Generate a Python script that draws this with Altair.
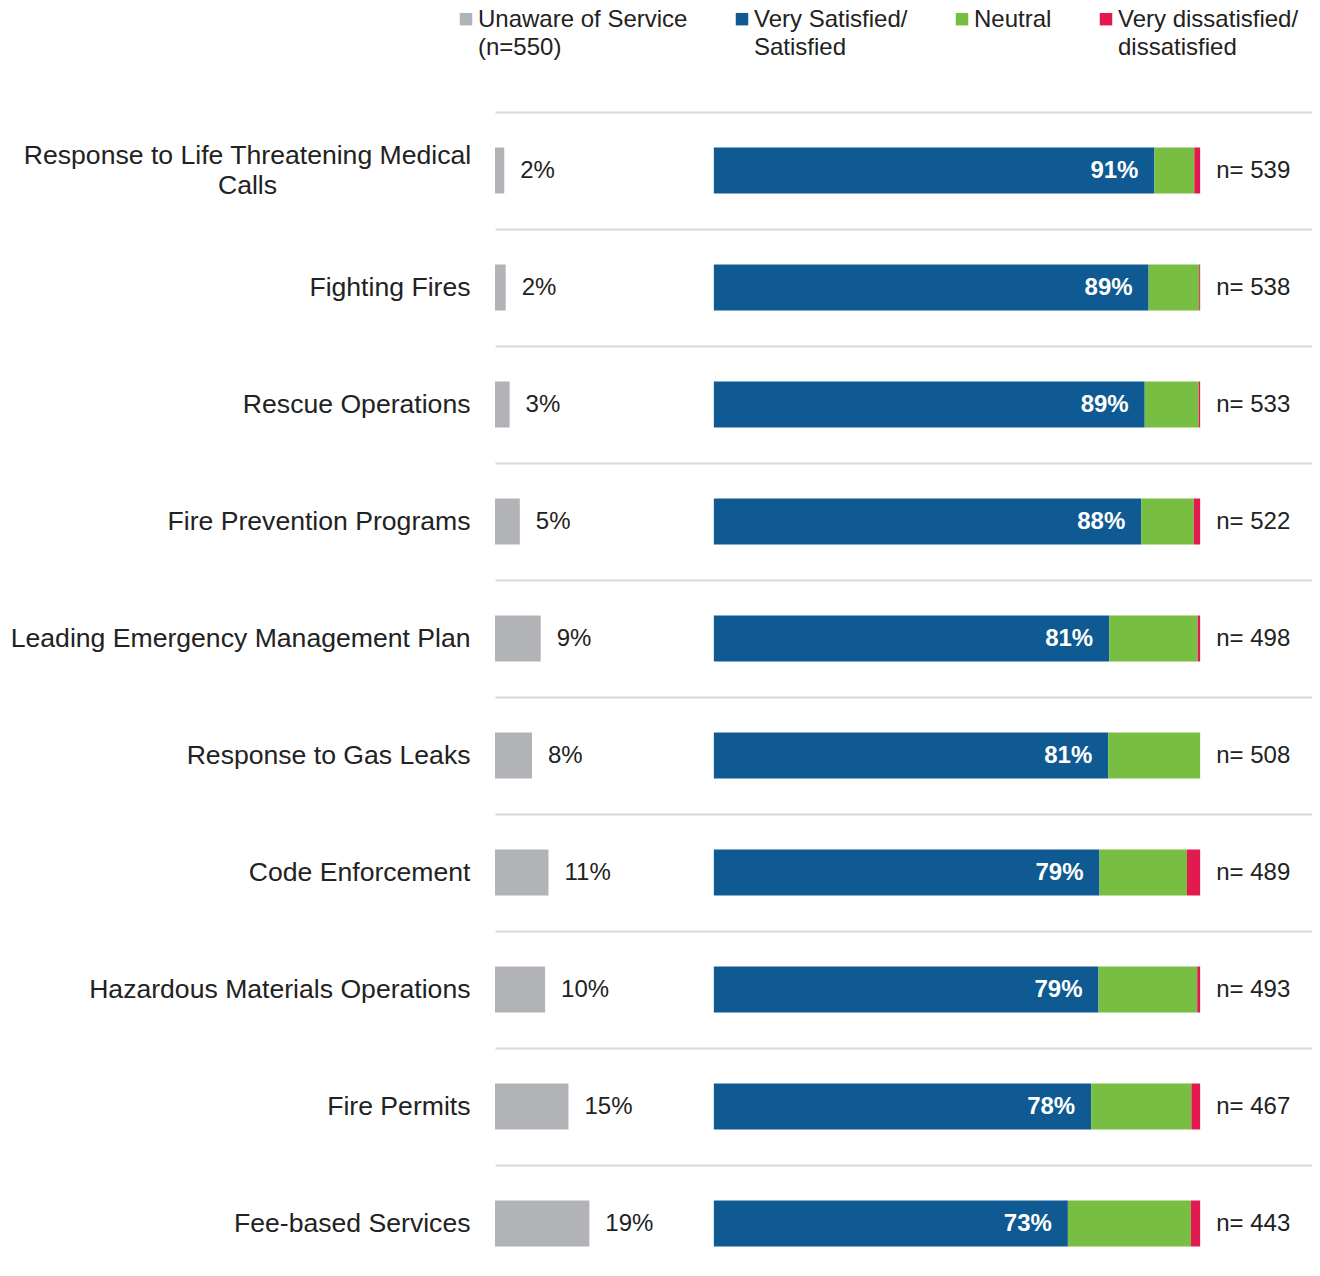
import json
import altair as alt
import pandas as pd

# ---------------- data ----------------
services = [
    "Response to Life Threatening Medical Calls",
    "Fighting Fires",
    "Rescue Operations",
    "Fire Prevention Programs",
    "Leading Emergency Management Plan",
    "Response to Gas Leaks",
    "Code Enforcement",
    "Hazardous Materials Operations",
    "Fire Permits",
    "Fee-based Services",
]
unaware = [1.9, 2.2, 3.0, 5.1, 9.4, 7.6, 11.0, 10.3, 15.1, 19.4]
satisfied = [90.6, 89.4, 88.6, 87.9, 81.3, 81.1, 79.3, 79.1, 77.6, 72.8]
neutral = [8.2, 10.4, 11.1, 10.8, 18.2, 18.9, 18.0, 20.3, 20.6, 25.3]
dissatisfied = [1.2, 0.2, 0.3, 1.3, 0.5, 0.0, 2.7, 0.6, 1.8, 1.9]
n_values = [539, 538, 533, 522, 498, 508, 489, 493, 467, 443]

series = [
    "Unaware of Service (n=550)",
    "Very Satisfied/Satisfied",
    "Neutral",
    "Very dissatisfied/dissatisfied",
]
series_lines = [
    ["Unaware of Service", "(n=550)"],
    ["Very Satisfied/", "Satisfied"],
    ["Neutral", ""],
    ["Very dissatisfied/", "dissatisfied"],
]
colors = ["#B1B3B6", "#0F5A92", "#78BE43", "#E31A4F"]
wrapped_labels = {
    "Response to Life Threatening Medical Calls": ["Response to Life Threatening Medical", "Calls"],
}

RATING_OFFSET = 45   # gap (in % units) before the rating bars start
X_MAX = 168
TEXT = "#222222"
FONT = "Liberation Sans"

rows = []
for i, s in enumerate(services):
    for j, vals in enumerate([unaware, satisfied, neutral, dissatisfied]):
        rows.append({
            "service": s,
            "series": series[j],
            "order": j,
            "panel": "unaware" if j == 0 else "rating",
            "value": vals[i],
            "n": n_values[i],
        })
df = pd.DataFrame(rows)

# ---------------- expressions ----------------
first = list(wrapped_labels.keys())[0]
test_first = f"datum.value == {json.dumps(first)}"
axis_label_expr = "".join(
    f"datum.value == {json.dumps(k)} ? {json.dumps(v)} : " for k, v in wrapped_labels.items()
) + "datum.label"
legend_label_expr = "".join(
    f"datum.label == {json.dumps(s)} ? {json.dumps(l)} : " for s, l in zip(series, series_lines)
) + "datum.label"

y_enc = alt.Y(
    "service:N",
    sort=services,
    scale=alt.Scale(range=[0, 1170], paddingInner=0, paddingOuter=0),
    axis=alt.Axis(
        title=None,
        domain=False,
        ticks=False,
        grid=True,
        tickBand="extent",
        gridColor="#D9D9D9",
        gridWidth=2,
        labelFontSize=26.6,
        labelFont=FONT,
        labelColor=TEXT,
        labelLineHeight=30,
        labelLimit=600,
        labelExpr=axis_label_expr,
        labelAlign={"condition": {"test": test_first, "value": "center"}, "value": "right"},
        labelPadding={"condition": {"test": test_first, "value": 248}, "value": 25},
        labelOffset={"condition": {"test": test_first, "value": -15}, "value": 0},
    ),
)

x_scale = alt.Scale(domain=[0, X_MAX], nice=False, zero=False)

base = alt.Chart(df).transform_stack(
    stack="value",
    groupby=["service", "panel"],
    sort=[alt.SortField("order")],
    as_=["s0", "s1"],
).transform_calculate(
    x0=f"datum.s0 + (datum.panel == 'rating' ? {RATING_OFFSET} : 0)",
    x1=f"datum.s1 + (datum.panel == 'rating' ? {RATING_OFFSET} : 0)",
    pct="format(datum.value, '.0f') + '%'",
    nlabel="'n= ' + datum.n",
)

square_path = "M-1,0.79H1V2.79H-1Z"

bars = base.mark_bar(size=46).encode(
    x=alt.X("x0:Q", scale=x_scale, axis=None),
    x2="x1:Q",
    y=y_enc,
    color=alt.Color(
        "series:N",
        scale=alt.Scale(domain=series, range=colors),
        legend=alt.Legend(
            title=None,
            orient="none",
            legendX=-42,
            legendY=-116,
            direction="horizontal",
            labelExpr=legend_label_expr,
            labelBaseline="top",
            labelFontSize=24,
            labelFont=FONT,
            labelColor=TEXT,
            labelLimit=400,
            labelOffset=0,
            columnPadding=41,
            symbolType=square_path,
            symbolSize=156,
            symbolOffset=1,
            symbolStrokeWidth=0,
            symbolOpacity=1,
        ),
    ),
)

gray_text = base.transform_filter("datum.panel == 'unaware'").mark_text(
    align="left", baseline="middle", dx=16, fontSize=24, font=FONT, color=TEXT
).encode(x=alt.X("x1:Q", scale=x_scale, axis=None), y=alt.Y("service:N", sort=services), text="pct:N")

sat_text = base.transform_filter(f"datum.series == {json.dumps(series[1])}").mark_text(
    align="right", baseline="middle", dx=-16, fontSize=24, font=FONT, fontWeight="bold", color="white"
).encode(x=alt.X("x1:Q", scale=x_scale, axis=None), y=alt.Y("service:N", sort=services), text="pct:N")

n_text = base.transform_filter(f"datum.series == {json.dumps(series[3])}").mark_text(
    align="left", baseline="middle", dx=16, fontSize=24, font=FONT, color=TEXT
).encode(x=alt.X("x1:Q", scale=x_scale, axis=None), y=alt.Y("service:N", sort=services), text="nlabel:N")

chart = alt.layer(bars, gray_text, sat_text, n_text).properties(
    width=817,
    height=1150,
    autosize=alt.AutoSizeParams(type="none"),
    padding={"left": 487, "top": 104, "right": 0, "bottom": 0},
).configure(
    font=FONT,
    style={"guide-label": {"lineHeight": 28}},
    view=alt.ViewConfig(stroke=None),
)

chart.save("out.html", embed_options={"renderer": "svg", "actions": False})
